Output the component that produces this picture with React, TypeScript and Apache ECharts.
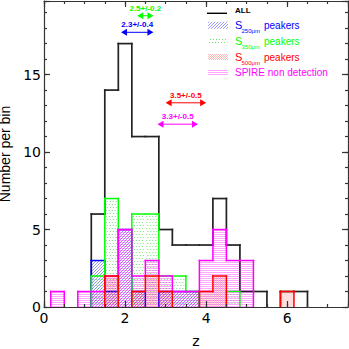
import React, { useEffect, useRef } from 'react';
import * as echarts from 'echarts';

// ---------- data ----------
const binCenters = [1 / 3, 2 / 3, 1, 4 / 3, 5 / 3, 2, 7 / 3, 8 / 3, 3, 10 / 3, 11 / 3, 4, 13 / 3, 14 / 3, 5, 16 / 3, 17 / 3, 6, 19 / 3];
const BIN_WIDTH = 1 / 3;
const allCounts = [0, 0, 0, 6, 14, 17, 11, 11, 5, 4, 4, 4, 7, 4, 1, 1, 0, 1, 1];
const s250Counts = [0, 0, 0, 3, 1, 5, 1, 0, 1, 1, 1, 0, 0, 0, 0, 0, 0, 0, 0];
const s350Counts = [0, 0, 0, 2, 7, 0, 6, 6, 2, 2, 1, 0, 0, 1, 0, 0, 0, 0, 0];
const s500Counts = [0, 0, 0, 0, 2, 0, 1, 2, 1, 0, 0, 1, 2, 0, 0, 0, 0, 1, 0];
const spireNonDetCounts = [1, 0, 1, 1, 2, 5, 2, 3, 2, 1, 1, 3, 5, 3, 3, 0, 0, 0, 0];

// mean redshift +/- error of each population (S250, S350, S500, SPIRE non detection)
const meanZ = [2.3, 2.5, 3.5, 3.3];
const errZ = [0.4, 0.2, 0.5, 0.5];

const xTicksMajor = 2;
const xTicksMinor = 0.5;
const yTicksMajor = 5;
const yTicksMinor = 1;

// ---------- layout / style ----------
const X_MAX = 7.5;
const Y_MAX = 19.75;
const ANNOT_LEVELS = [17.73, 18.8, 13.18, 11.8]; // vertical placement of the mean arrows (axis units)
const COLORS = { all: '#222222', s250: '#0000ff', s350: '#00ff00', s500: '#ff0000', spire: '#ff00ff' };
const POP_COLORS = [COLORS.s250, COLORS.s350, COLORS.s500, COLORS.spire];

// vector hatch fills inside a rectangle (x0,y0)-(x1,y1), y0 = top
function hatch(kind: string, x0: number, y0: number, x1: number, y1: number): any[] {
  const els: any[] = [];
  if (x1 - x0 < 0.5 || y1 - y0 < 0.5) return els;
  if (kind === 'diag') {
    const sp = 3;
    const kStart = Math.ceil((x0 + y0) / sp) * sp;
    for (let k = kStart; k <= x1 + y1; k += sp) {
      const xa = Math.max(x0, k - y1);
      const xb = Math.min(x1, k - y0);
      if (xb - xa < 0.3) continue;
      els.push({ type: 'line', silent: true, shape: { x1: xa, y1: k - xa, x2: xb, y2: k - xb }, style: { stroke: 'rgba(40,40,255,0.6)', lineWidth: 0.8 } });
    }
  } else if (kind === 'horiz') {
    for (let n = Math.ceil(y0); n < y1 - 0.5; n++) {
      if (n % 2 !== 0) continue;
      els.push({ type: 'line', silent: true, shape: { x1: x0, y1: n + 0.5, x2: x1, y2: n + 0.5 }, style: { stroke: 'rgba(255,0,255,0.34)', lineWidth: 1 } });
    }
  } else if (kind === 'dots') {
    for (let n = Math.ceil(y0) + 1; n < y1 - 1; n++) {
      if (n % 3 !== 0) continue;
      els.push({ type: 'line', silent: true, shape: { x1: x0 + 1, y1: n + 0.5, x2: x1 - 0.5, y2: n + 0.5 }, style: { stroke: 'rgba(0,200,0,0.55)', lineWidth: 1, lineDash: [1, 2], lineDashOffset: (n / 3) % 2 === 0 ? 0 : 1.5 } });
    }
  } else if (kind === 'cross') {
    for (let n = Math.ceil(y0); n < y1 - 0.5; n++) {
      els.push({ type: 'line', silent: true, shape: { x1: x0, y1: n + 0.5, x2: x1, y2: n + 0.5 }, style: { stroke: 'rgba(255,0,0,0.28)', lineWidth: 1, lineDash: [1, 1], lineDashOffset: n % 2 === 0 ? 0 : 1 } });
    }
  }
  return els;
}

function histSeries(name: string, values: number[], color: string, pattern: string | null, lw: number) {
  return {
    type: 'custom',
    name,
    xAxisIndex: 0,
    yAxisIndex: 0,
    clip: false,
    data: binCenters.map((c, i) => [c, values[i]]),
    renderItem: (params: any, api: any) => {
      const i = params.dataIndex;
      const c = api.value(0) as number;
      const v = api.value(1) as number;
      const prev = i > 0 ? values[i - 1] : 0;
      const isLast = i === values.length - 1;
      const [xl, yb] = api.coord([c - BIN_WIDTH / 2, 0]);
      const [xr, yv] = api.coord([c + BIN_WIDTH / 2, v]);
      const yp = api.coord([c, prev])[1];
      const st = { stroke: color, lineWidth: lw, lineCap: 'square' };
      const children: any[] = [];
      if (v > 0) {
        if (pattern) children.push(...hatch(pattern, xl, yv, xr, yb));
        children.push({ type: 'line', shape: { x1: xl, y1: yv, x2: xr, y2: yv }, style: st });
      }
      if (prev !== v) {
        children.push({ type: 'line', shape: { x1: xl, y1: yp, x2: xl, y2: yv }, style: st });
      }
      if (isLast && v > 0) {
        children.push({ type: 'line', shape: { x1: xr, y1: yv, x2: xr, y2: yb }, style: st });
      }
      return { type: 'group', children };
    },
  };
}

const FONT_AX = 'DejaVu Sans';
const FONT_SM = 'Liberation Sans';
const frameLine = { color: '#333', width: 1.2 };

function xAxisDef(position: string, interval: number, major: boolean, labels: boolean) {
  return {
    type: 'value', min: 0, max: X_MAX, interval, position, z: 10,
    axisLine: { show: major, onZero: false, lineStyle: frameLine },
    axisTick: { show: true, inside: true, length: major ? 6 : 3, lineStyle: frameLine },
    axisLabel: labels ? {
      show: true, margin: 4, fontSize: 14, fontFamily: FONT_AX, color: '#000',
      formatter: (v: number) => (Math.abs(v / xTicksMajor - Math.round(v / xTicksMajor)) < 1e-6 ? String(v) : ''),
    } : { show: false },
    splitLine: { show: false },
    ...(labels ? { name: 'z', nameLocation: 'middle', nameGap: 27, nameTextStyle: { fontSize: 14, fontFamily: FONT_AX, color: '#000' } } : {}),
  };
}
function yAxisDef(position: string, interval: number, major: boolean, labels: boolean) {
  return {
    type: 'value', min: 0, max: Y_MAX, interval, position, z: 10,
    axisLine: { show: major, onZero: false, lineStyle: frameLine },
    axisTick: { show: true, inside: true, length: major ? 6 : 3, lineStyle: frameLine },
    axisLabel: labels ? {
      show: true, margin: 3, fontSize: 14, fontFamily: FONT_AX, color: '#000',
      formatter: (v: number) => (Math.abs(v / yTicksMajor - Math.round(v / yTicksMajor)) < 1e-6 ? String(v) : ''),
    } : { show: false },
    splitLine: { show: false },
    ...(labels ? { name: 'Number per bin', nameLocation: 'middle', nameGap: 23, nameTextStyle: { fontSize: 14, fontFamily: FONT_SM, color: '#000' } } : {}),
  };
}

export default function App() {
  const ref = useRef<HTMLDivElement>(null);
  useEffect(() => {
    if (!ref.current) return;
    const chart = echarts.init(ref.current, undefined, { renderer: 'svg' });

    const legendRows = [
      { sub: '250μm', color: COLORS.s250, pattern: 'diag', base: 29.3 },
      { sub: '350μm', color: COLORS.s350, pattern: 'dots', base: 45 },
      { sub: '500μm', color: COLORS.s500, pattern: 'cross', base: 60.7 },
    ];
    const graphic: any[] = [
      { type: 'line', shape: { x1: 207, y1: 13.3, x2: 227, y2: 13.3 }, style: { stroke: '#000', lineWidth: 1.4 } },
      { type: 'text', x: 235, y: 10.5, style: { text: 'ALL', fill: '#000', font: `bold 8px "${FONT_SM}"`, verticalAlign: 'middle' } },
    ];
    legendRows.forEach((r) => {
      graphic.push({ type: 'group', children: hatch(r.pattern, 208, r.base - 7.5, 228, r.base - 0.5) });
      graphic.push({ type: 'text', x: 235, y: r.base - 3.9, style: { text: 'S', fill: r.color, font: `11px "${FONT_SM}"`, verticalAlign: 'middle' } });
      graphic.push({ type: 'text', x: 241.5, y: r.base + 1.9, style: { text: r.sub, fill: r.color, font: `6px "${FONT_SM}"`, verticalAlign: 'middle' } });
      graphic.push({ type: 'text', x: 264, y: r.base - 3.5, style: { text: 'peakers', fill: r.color, font: `10px "${FONT_SM}"`, verticalAlign: 'middle' } });
    });
    graphic.push({ type: 'group', children: hatch('horiz', 208, 68.5, 228, 75.5) });
    graphic.push({ type: 'text', x: 235, y: 72.5, style: { text: 'SPIRE non detection', fill: COLORS.spire, font: `10px "${FONT_SM}"`, verticalAlign: 'middle' } });

    const annotSeries = {
      type: 'custom',
      name: 'mean z',
      xAxisIndex: 0,
      yAxisIndex: 0,
      clip: false,
      data: meanZ.map((m, i) => [m, ANNOT_LEVELS[i], errZ[i]]),
      renderItem: (params: any, api: any) => {
        const i = params.dataIndex;
        const m = api.value(0) as number;
        const lvl = api.value(1) as number;
        const e = api.value(2) as number;
        const [xl, yy] = api.coord([m - e, lvl]);
        const [xr] = api.coord([m + e, lvl]);
        const [xc] = api.coord([m, lvl]);
        const col = POP_COLORS[i];
        const hl = 6, hh = 3.5;
        return {
          type: 'group',
          children: [
            { type: 'line', shape: { x1: xl + 2, y1: yy, x2: xr - 2, y2: yy }, style: { stroke: col, lineWidth: 1 } },
            { type: 'polygon', shape: { points: [[xl, yy], [xl + hl, yy - hh], [xl + hl, yy + hh]] }, style: { fill: col } },
            { type: 'polygon', shape: { points: [[xr, yy], [xr - hl, yy - hh], [xr - hl, yy + hh]] }, style: { fill: col } },
            { type: 'text', x: xc, y: yy - 7.5, style: { text: `${m.toFixed(1)}+/-${e.toFixed(1)}`, fill: col, font: `bold 8px "${FONT_SM}"`, align: 'center', verticalAlign: 'middle' } },
          ],
        };
      },
    };

    chart.setOption({
      animation: false,
      backgroundColor: '#fff',
      textStyle: { fontFamily: FONT_AX },
      grid: { left: 44, right: 1, top: 1, bottom: 42, containLabel: false, outerBoundsMode: 'none' },
      xAxis: [
        xAxisDef('bottom', xTicksMajor, true, true),
        xAxisDef('bottom', xTicksMinor, false, false),
        xAxisDef('top', xTicksMajor, true, false),
        xAxisDef('top', xTicksMinor, false, false),
      ],
      yAxis: [
        yAxisDef('left', yTicksMajor, true, true),
        yAxisDef('left', yTicksMinor, false, false),
        yAxisDef('right', yTicksMajor, true, false),
        yAxisDef('right', yTicksMinor, false, false),
      ],
      series: [
        histSeries('ALL', allCounts, COLORS.all, null, 1.7),
        histSeries('S250μm peakers', s250Counts, COLORS.s250, 'diag', 1.5),
        histSeries('S350μm peakers', s350Counts, COLORS.s350, 'dots', 1.5),
        histSeries('SPIRE non detection', spireNonDetCounts, COLORS.spire, 'horiz', 1.5),
        histSeries('S500μm peakers', s500Counts, COLORS.s500, 'cross', 1.5),
        annotSeries,
      ],
      graphic,
    });
    return () => chart.dispose();
  }, []);
  return <div ref={ref} style={{ position: 'fixed', left: 0, top: 0, width: 349, height: 349 }} />;
}
